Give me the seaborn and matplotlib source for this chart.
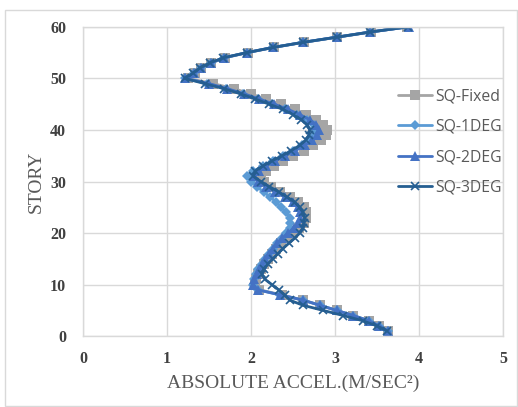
import pandas as pd
import matplotlib.pyplot as plt
import seaborn as sns
from matplotlib.patches import Rectangle

STORY = list(range(1, 61))

SQ_FIXED = [3.63, 3.53, 3.40, 3.22, 3.02, 2.82, 2.62, 2.37, 2.10, 2.05,
            2.06, 2.09, 2.12, 2.16, 2.20, 2.25, 2.30, 2.36, 2.43, 2.50,
            2.57, 2.63, 2.66, 2.66, 2.63, 2.56, 2.46, 2.35, 2.24, 2.15,
            2.12, 2.18, 2.27, 2.38, 2.50, 2.63, 2.74, 2.83, 2.89, 2.90,
            2.86, 2.77, 2.66, 2.52, 2.36, 2.18, 2.00, 1.80, 1.55, 1.25,
            1.33, 1.41, 1.53, 1.69, 1.96, 2.27, 2.63, 3.03, 3.43, 3.86]

SQ_1DEG = [3.63, 3.53, 3.40, 3.22, 3.02, 2.82, 2.62, 2.35, 2.08, 2.03,
           2.04, 2.06, 2.09, 2.13, 2.17, 2.21, 2.26, 2.31, 2.37, 2.42,
           2.46, 2.47, 2.46, 2.42, 2.36, 2.30, 2.23, 2.15, 2.07, 2.00,
           1.95, 2.03, 2.14, 2.26, 2.38, 2.50, 2.61, 2.70, 2.76, 2.78,
           2.75, 2.67, 2.55, 2.41, 2.25, 2.08, 1.90, 1.70, 1.48, 1.22,
           1.32, 1.40, 1.52, 1.68, 1.95, 2.26, 2.62, 3.02, 3.42, 3.87]

SQ_2DEG = [3.63, 3.53, 3.40, 3.22, 3.02, 2.82, 2.62, 2.35, 2.08, 2.03,
           2.04, 2.07, 2.10, 2.13, 2.17, 2.21, 2.26, 2.31, 2.37, 2.44,
           2.51, 2.56, 2.59, 2.59, 2.56, 2.50, 2.40, 2.29, 2.18, 2.08,
           2.04, 2.10, 2.18, 2.29, 2.41, 2.53, 2.64, 2.73, 2.79, 2.81,
           2.78, 2.70, 2.58, 2.44, 2.28, 2.10, 1.92, 1.72, 1.50, 1.22,
           1.32, 1.40, 1.52, 1.68, 1.95, 2.26, 2.62, 3.02, 3.42, 3.88]

SQ_3DEG = [3.62, 3.50, 3.33, 3.10, 2.86, 2.62, 2.46, 2.40, 2.33, 2.25,
           2.17, 2.13, 2.15, 2.20, 2.26, 2.32, 2.38, 2.45, 2.52, 2.58,
           2.62, 2.63, 2.64, 2.62, 2.58, 2.52, 2.43, 2.33, 2.22, 2.12,
           2.03, 2.05, 2.14, 2.25, 2.37, 2.48, 2.58, 2.65, 2.69, 2.70,
           2.67, 2.60, 2.50, 2.38, 2.22, 2.05, 1.88, 1.68, 1.45, 1.21,
           1.31, 1.39, 1.51, 1.67, 1.95, 2.26, 2.62, 3.02, 3.42, 3.87]

SERIES = ["SQ-Fixed", "SQ-1DEG", "SQ-2DEG", "SQ-3DEG"]

COLORS = {
    "SQ-Fixed": "#A5A5A5",
    "SQ-1DEG": "#5B9BD5",
    "SQ-2DEG": "#4472C4",
    "SQ-3DEG": "#255E91",
}
MARKERS = {"SQ-Fixed": "s", "SQ-1DEG": "D", "SQ-2DEG": "^", "SQ-3DEG": "x"}
MSIZE = {"SQ-Fixed": 6.5, "SQ-1DEG": 5, "SQ-2DEG": 6.5, "SQ-3DEG": 6}

GRID = "#D9D9D9"
TEXT = "#595959"

df = pd.concat([
    pd.DataFrame({"story": STORY, "accel": vals, "series": name})
    for name, vals in zip(SERIES, [SQ_FIXED, SQ_1DEG, SQ_2DEG, SQ_3DEG])
])

sns.set_theme(style="whitegrid")
plt.rcParams["font.family"] = ["Liberation Serif", "DejaVu Sans"]

fig = plt.figure(figsize=(5.18, 4.07), dpi=100)
ax = fig.add_axes([0.160, 0.174, 0.811, 0.760])

for name in SERIES:
    sns.lineplot(
        data=df[df["series"] == name],
        x="accel",
        y="story",
        sort=False,
        estimator=None,
        color=COLORS[name],
        marker=MARKERS[name],
        markersize=MSIZE[name],
        markeredgecolor=COLORS[name],
        markeredgewidth=1.2 if name == "SQ-3DEG" else 0,
        linewidth=2.0,
        label=name,
        ax=ax,
    )

ax.set_xlim(0, 5)
ax.set_ylim(0, 60)
ax.set_xticks(range(0, 6))
ax.set_yticks(range(0, 61, 10))
ax.grid(True, color=GRID, linewidth=1)
for spine in ax.spines.values():
    spine.set_color(GRID)
    spine.set_linewidth(1)
ax.tick_params(axis="both", length=0, labelsize=11.5, labelcolor="#404040")
ax.tick_params(axis="x", pad=11)
ax.tick_params(axis="y", pad=12)
for lab in ax.get_xticklabels() + ax.get_yticklabels():
    lab.set_fontweight("bold")

ax.set_xlabel("ABSOLUTE ACCEL.(M/SEC²)", fontsize=14, color=TEXT, labelpad=5)
ax.set_ylabel("STORY", fontsize=14, color=TEXT, labelpad=4)

leg = ax.legend(
    loc="upper left",
    bbox_to_anchor=(0.735, 0.82),
    frameon=False,
    handlelength=2.2,
    labelspacing=0.9,
    handletextpad=0.15,
    borderaxespad=0,
    prop={"family": "Open Sans", "size": 11.3},
)
for txt in leg.get_texts():
    txt.set_color(TEXT)

fig.patches.append(Rectangle((5 / 518, 1 / 407), 512 / 518, 396 / 407,
                             transform=fig.transFigure, fill=False,
                             edgecolor=GRID, linewidth=1))

plt.savefig("out.png", dpi=100)
plt.close()
